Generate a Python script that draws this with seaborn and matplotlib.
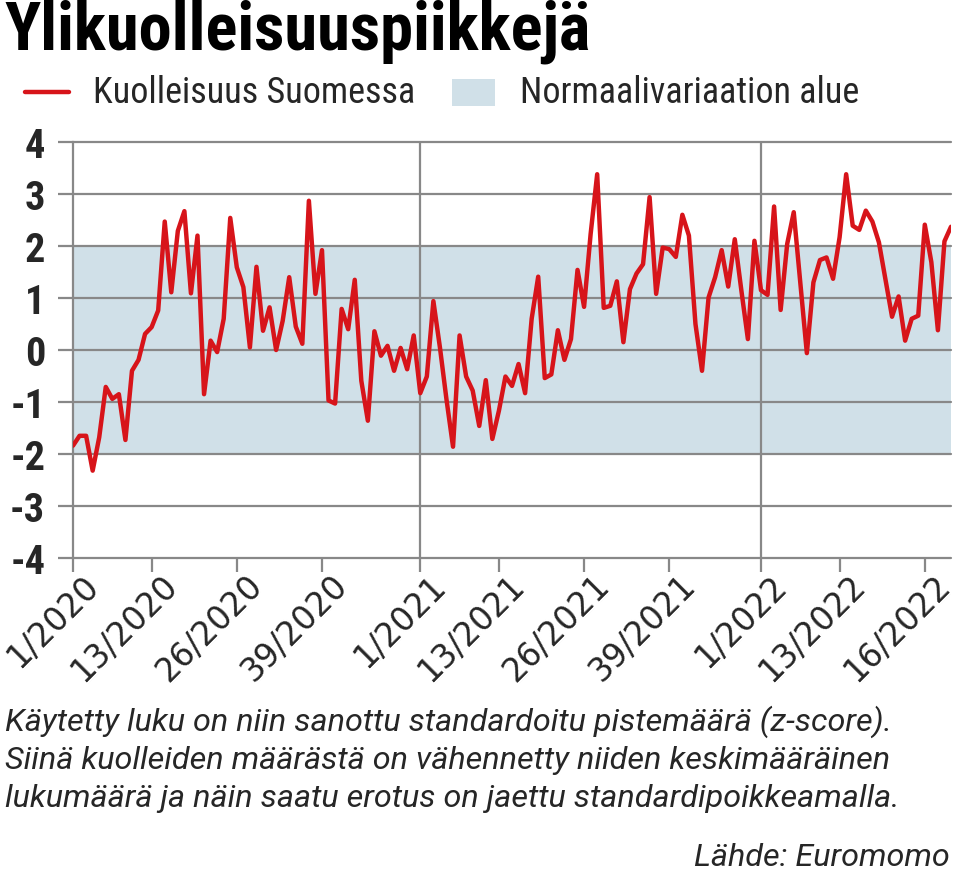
import matplotlib
matplotlib.use("Agg")
import matplotlib.pyplot as plt
from matplotlib import font_manager
import seaborn as sns
import pandas as pd
import numpy as np

# ---------------- data ----------------
z_scores = [
    -1.84, -1.65, -1.65, -2.32, -1.68, -0.71, -0.94, -0.85, -1.73, -0.40,
    -0.19, 0.31, 0.44, 0.76, 2.47, 1.11, 2.29, 2.67, 1.09, 2.20,
    -0.85, 0.18, -0.04, 0.60, 2.54, 1.59, 1.21, 0.05, 1.60, 0.37,
    0.82, 0.00, 0.56, 1.40, 0.45, 0.12, 2.87, 1.08, 1.92, -0.97,
    -1.03, 0.79, 0.40, 1.35, -0.59, -1.36, 0.36, -0.11, 0.08, -0.40,
    0.04, -0.37, 0.28, -0.83, -0.51, 0.94, 0.05, -0.95, -1.86, 0.28,
    -0.51, -0.78, -1.46, -0.58, -1.71, -1.17, -0.51, -0.69, -0.27, -0.83,
    0.60, 1.41, -0.54, -0.47, 0.38, -0.19, 0.21, 1.54, 0.83, 2.23,
    3.38, 0.81, 0.85, 1.32, 0.15, 1.17, 1.47, 1.65, 2.94, 1.08,
    1.97, 1.94, 1.79, 2.60, 2.20, 0.50, -0.40, 1.01, 1.40, 1.92,
    1.22, 2.13, 1.15, 0.21, 2.10, 1.15, 1.06, 2.76, 0.77, 2.04,
    2.65, 1.30, -0.06, 1.30, 1.73, 1.78, 1.37, 2.17, 3.38, 2.39,
    2.31, 2.68, 2.47, 2.07, 1.35, 0.64, 1.03, 0.18, 0.60, 0.66,
    2.41, 1.69, 0.38, 2.09, 2.37,
]
week_index = list(range(len(z_scores)))
tick_positions = [0, 12, 25, 38, 53, 65, 78, 91, 105, 117, 130]
tick_labels = ["1/2020", "13/2020", "26/2020", "39/2020", "1/2021", "13/2021",
               "26/2021", "39/2021", "1/2022", "13/2022", "16/2022"]
year_starts = [53, 105]
normal_low, normal_high = -2, 2
y_ticks = [4, 3, 2, 1, 0, -1, -2, -3, -4]

title = "Ylikuolleisuuspiikkejä"
series_name = "Kuolleisuus Suomessa"
band_name = "Normaalivariaation alue"
note_lines = [
    "Käytetty luku on niin sanottu standardoitu pistemäärä (z-score).",
    "Siinä kuolleiden määrästä on vähennetty niiden keskimääräinen",
    "lukumäärä ja näin saatu erotus on jaettu standardipoikkeamalla.",
]
source = "Lähde: Euromomo"

# ---------------- style ----------------
sns.set_style("white")
available = {f.name for f in font_manager.fontManager.ttflist}
def pick(*names):
    for n in names:
        if n in available:
            return n
    return "DejaVu Sans"
narrow = pick("Liberation Sans Narrow", "Roboto Condensed", "Open Sans Condensed", "Roboto")
regular = pick("Roboto", "Open Sans", "DejaVu Sans")
plt.rcParams["font.family"] = ["DejaVu Sans"]

RED = "#d7141a"
BAND = "#d0e0e8"
GRID = "#888888"

W, H = 960, 878
fig = plt.figure(figsize=(W / 100, H / 100), dpi=100)
ax_l, ax_r, ax_t, ax_b = 73, 951, 143, 559
ax = fig.add_axes([ax_l / W, 1 - ax_b / H, (ax_r - ax_l) / W, (ax_b - ax_t) / H])

df = pd.DataFrame({"week": week_index, "z": z_scores})

ax.axhspan(normal_low, normal_high, color=BAND, zorder=0, lw=0)
for y in y_ticks:
    ax.axhline(y, color=GRID, lw=1.6, zorder=1, clip_on=False)
for x in year_starts:
    ax.axvline(x, color=GRID, lw=1.6, zorder=1)

sns.lineplot(data=df, x="week", y="z", color=RED, lw=3.2, ax=ax, zorder=3)

ax.set_xlim(0, len(z_scores) - 1)
ax.set_ylim(-4, 4)
ax.set_xlabel("")
ax.set_ylabel("")
for s in ["top", "right", "bottom"]:
    ax.spines[s].set_visible(False)
ax.spines["left"].set_color(GRID)
ax.spines["left"].set_linewidth(1.6)
ax.spines["left"].set_zorder(2)

ax.set_yticks(y_ticks)
ax.set_yticklabels([str(v) for v in y_ticks], fontfamily=narrow, fontweight="bold", fontsize=29)
ax.tick_params(axis="y", length=11, width=1.6, color=GRID, pad=9, left=True)
ax.set_xticks(tick_positions)
ax.set_xticklabels(tick_labels, rotation=45, ha="right", va="top", rotation_mode="anchor",
                   fontsize=23.5, fontfamily="DejaVu Sans")
ax.tick_params(axis="x", length=10, width=1.6, color=GRID, pad=3, bottom=True)
for lbl in ax.get_xticklabels():
    lbl.set_transform(lbl.get_transform() + matplotlib.transforms.ScaledTranslation(9 / 100, 8 / 100, fig.dpi_scale_trans))

# title
fig.text(4 / W, 1 - 0 / H, title, fontsize=48, fontweight="bold", fontfamily=narrow,
         ha="left", va="top", color="black")

# legend (manual)
fig.add_artist(plt.Line2D([25 / W, 69 / W], [1 - 93 / H, 1 - 93 / H], color=RED, lw=3.2))
fig.text(93 / W, 1 - 93 / H, series_name, fontsize=26, fontfamily=narrow, ha="left", va="center")
fig.add_artist(plt.Rectangle((452 / W, 1 - 107 / H), 43 / W, 27 / H, color=BAND, lw=0))
fig.text(520 / W, 1 - 93 / H, band_name, fontsize=26, fontfamily=narrow, ha="left", va="center")

# notes
for i, line in enumerate(note_lines):
    fig.text(5 / W, 1 - (722 + 38.5 * i) / H, line, fontsize=23.3, style="italic",
             fontfamily=regular, ha="left", va="center")
fig.text(950 / W, 1 - 858 / H, source, fontsize=23.3, style="italic", fontfamily=regular,
         ha="right", va="center")

fig.savefig("out.png", dpi=100)
